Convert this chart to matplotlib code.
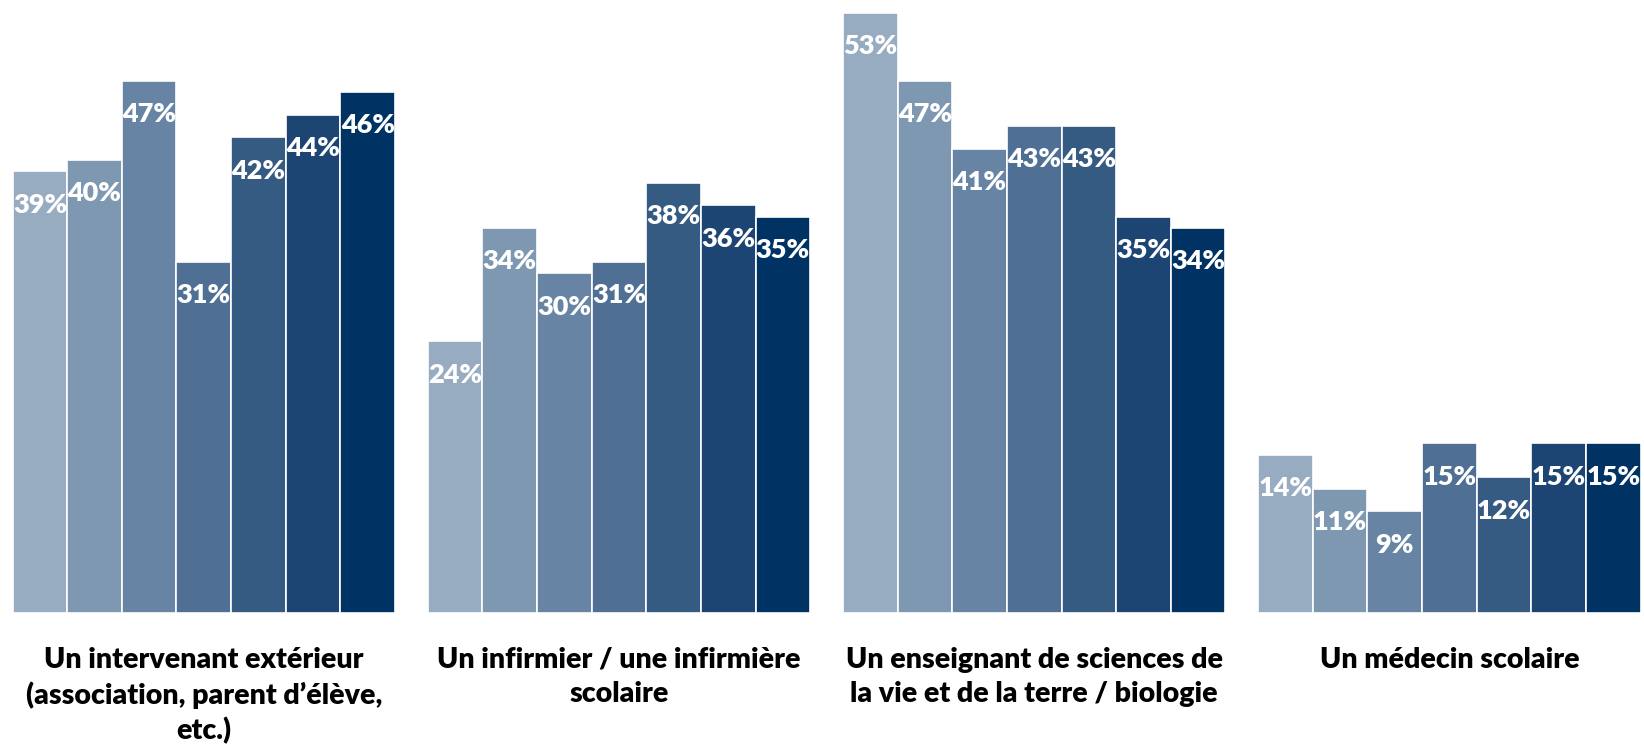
import matplotlib.pyplot as plt
import numpy as np

# categories (x groups)
categories = [
    "Un intervenant extérieur\n(association, parent d\u2019élève,\netc.)",
    "Un infirmier / une infirmière\nscolaire",
    "Un enseignant de sciences de\nla vie et de la terre / biologie",
    "Un médecin scolaire",
]

# one list per series (7 series, light -> dark)
s1 = [39, 24, 53, 14]
s2 = [40, 34, 47, 11]
s3 = [47, 30, 41, 9]
s4 = [31, 31, 43, 15]
s5 = [42, 38, 43, 12]
s6 = [44, 36, 35, 15]
s7 = [46, 35, 34, 15]
series = [s1, s2, s3, s4, s5, s6, s7]

colors = ["#98acc1", "#7f98b2", "#6784a4", "#4f7094", "#365b82", "#1c4573", "#003263"]

plt.rcParams['font.family'] = ['Lato', 'DejaVu Sans']

fig = plt.figure(figsize=(16.44, 7.46), dpi=100)
ax = fig.add_axes([12.6 / 1644, 0.178, 1628 / 1644, 0.805])

n = len(series)
gap = 0.6
group_w = n + gap
for gi in range(len(categories)):
    for si, vals in enumerate(series):
        x = gi * group_w + si + 0.5
        v = vals[gi]
        ax.bar(x, v, width=1.0, color=colors[si], edgecolor="white", linewidth=1.2)
        ax.annotate(f"{v}%", xy=(x, v), xytext=(0, -24), textcoords="offset points",
                    ha="center", va="center", color="white", fontsize=19.5, fontweight="heavy")
    cx = gi * group_w + n / 2
    ax.annotate(categories[gi], xy=(cx, 0), xytext=(0, -24), textcoords="offset points",
                ha="center", va="top", fontsize=20.5, fontweight="heavy", color="black",
                linespacing=1.38, annotation_clip=False)

ax.set_xlim(0, len(categories) * group_w - gap)
ax.set_ylim(0, 53)
ax.axis("off")

fig.savefig("out.png", dpi=100)
